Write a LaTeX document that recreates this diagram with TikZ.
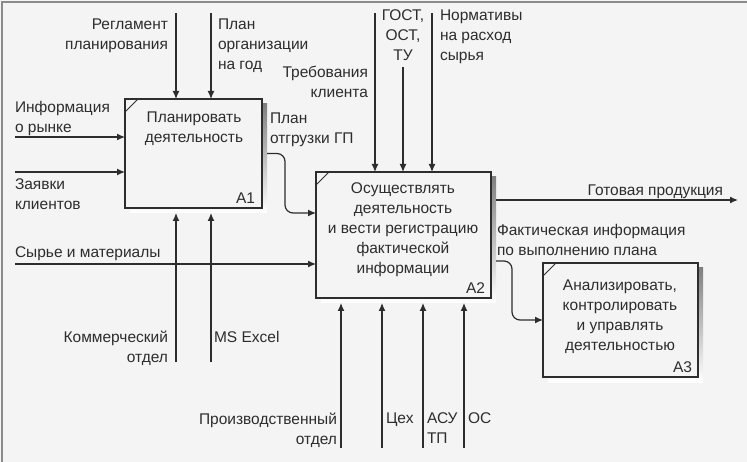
\documentclass[tikz,border=0pt]{standalone}
\usepackage{fontspec}
\setmainfont{Liberation Sans}
\usetikzlibrary{arrows.meta,backgrounds}
\definecolor{bg}{RGB}{244,244,244}
\definecolor{ink}{RGB}{45,45,45}
\definecolor{shade}{RGB}{70,70,70}
\begin{document}
\begin{tikzpicture}[x=1pt,y=-1pt,
  every node/.style={inner sep=0pt,outer sep=0pt,text=ink,font=\fontsize{15.5}{20}\selectfont},
  box/.style={draw=ink,line width=1.4pt,fill=bg,anchor=north west},
  arr/.style={draw=ink,line width=1.2pt,-{Latex[length=8pt,width=7pt]}},
  lbl/.style={align=left,anchor=north west},
  lblr/.style={align=right,anchor=north east},
  lblc/.style={align=center,anchor=north},
  boxtxt/.style={align=center,anchor=north},
  num/.style={anchor=east}]
\useasboundingbox (0,0) rectangle (747,462);

% boxes
\node[box,minimum width=137pt,minimum height=109pt] (A1) at (125,99) {};
\node[box,minimum width=175pt,minimum height=126pt] (A2) at (316,172) {};
\node[box,minimum width=155pt,minimum height=114pt] (A3) at (543,263) {};
\foreach \b in {A1,A2,A3}
  \draw[ink,line width=0.9pt] ([shift={(0,13)}]\b.north west) -- ([shift={(13,0)}]\b.north west);
\begin{scope}[on background layer]
  \fill[bg] (0,0) rectangle (747,462);
  \draw[ink!55,line width=1.5pt] (2,462) -- (2,2) -- (747,2);
  \foreach \b in {A1,A2,A3}
    \fill[shade] ([shift={(5,5)}]\b.north west) rectangle ([shift={(5,5)}]\b.south east);
\end{scope}

\node[boxtxt] (t1) at (194,112) {Планировать\\деятельность};
\node[num] (n1) at (255,198) {A1};
\node[boxtxt] (t2) at (403,183) {Осуществлять\\деятельность\\и вести регистрацию\\фактической\\информации};
\node[num] (n2) at (485,288) {A2};
\node[boxtxt] (t3) at (620,280) {Анализировать,\\контролировать\\и управлять\\деятельностью};
\node[num] (n3) at (692,367) {A3};

% coordinates of free ends
\coordinate (c1) at (176,13);
\coordinate (c2) at (211,13);
\coordinate (c3) at (375,13);
\coordinate (c4) at (403,67);
\coordinate (c5) at (432,13);
\coordinate (i1) at (15,137);
\coordinate (i2) at (15,172);
\coordinate (i3) at (15,264);
\coordinate (m1) at (176,362);
\coordinate (m2) at (211,362);
\coordinate (m3) at (341,448);
\coordinate (m4) at (382,448);
\coordinate (m5) at (423,448);
\coordinate (m6) at (464,448);
\coordinate (o1) at (738,200);
\coordinate (y213) at (0,213);
\coordinate (y261) at (0,261);

% controls
\draw[arr] (c1) -- (c1 |- A1.north);
\draw[arr] (c2) -- (c2 |- A1.north);
\draw[arr] (c3) -- (c3 |- A2.north);
\draw[arr] (c4) -- (c4 |- A2.north);
\draw[arr] (c5) -- (c5 |- A2.north);
% inputs
\draw[arr] (i1) -- (i1 -| A1.west);
\draw[arr] (i2) -- (i2 -| A1.west);
\draw[arr] (i3) -- (i3 -| A2.west);
% mechanisms
\draw[arr] (m1) -- ([yshift=-5pt]m1 |- A1.south);
\draw[arr] (m2) -- ([yshift=-5pt]m2 |- A1.south);
\foreach \m in {m3,m4,m5,m6}
  \draw[arr] (\m) -- ([yshift=-5pt]\m |- A2.south);
% outputs
\draw[arr,rounded corners=8pt] ([xshift=5pt]A1.east) -- (285,153.5) -- (285,213) -- (A2.west |- y213);
\draw[arr] ([xshift=5pt]A2.east |- o1) -- (o1);
\draw[arr,rounded corners=8pt] ([xshift=5pt]A2.east |- y261) -- (512,261) -- (512,320) -- (A3.west);

% labels
\node[lblr] (l1) at (168,19) {Регламент\\планирования};
\node[lbl] (l2) at (218,19) {План\\организации\\на год};
\node[lblr] (l3) at (368,66) {Требования\\клиента};
\node[lblc] (l4) at (403,10) {ГОСТ,\\ОСТ,\\ТУ};
\node[lbl] (l5) at (440,10) {Нормативы\\на расход\\сырья};
\node[lbl] (l6) at (15,101) {Информация\\о рынке};
\node[lbl] (l7) at (15,179) {Заявки\\клиентов};
\node[lbl] (l8) at (15,247) {Сырье и материалы};
\node[lbl] (l9) at (270,113) {План\\отгрузки ГП};
\node[lblr] (l10) at (168,331) {Коммерческий\\отдел};
\node[lbl] (l11) at (214,331) {MS Excel};
\node[lblr] (l12) at (337,413) {Производственный\\отдел};
\node[lbl] (l13) at (386,413) {Цех};
\node[lbl] (l14) at (427,413) {АСУ\\ТП};
\node[lbl] (l15) at (468,413) {ОС};
\node[lblr] (l16) at (723,185) {Готовая продукция};
\node[lbl] (l17) at (497,224) {Фактическая информация\\по выполнению плана};
\end{tikzpicture}
\end{document}
